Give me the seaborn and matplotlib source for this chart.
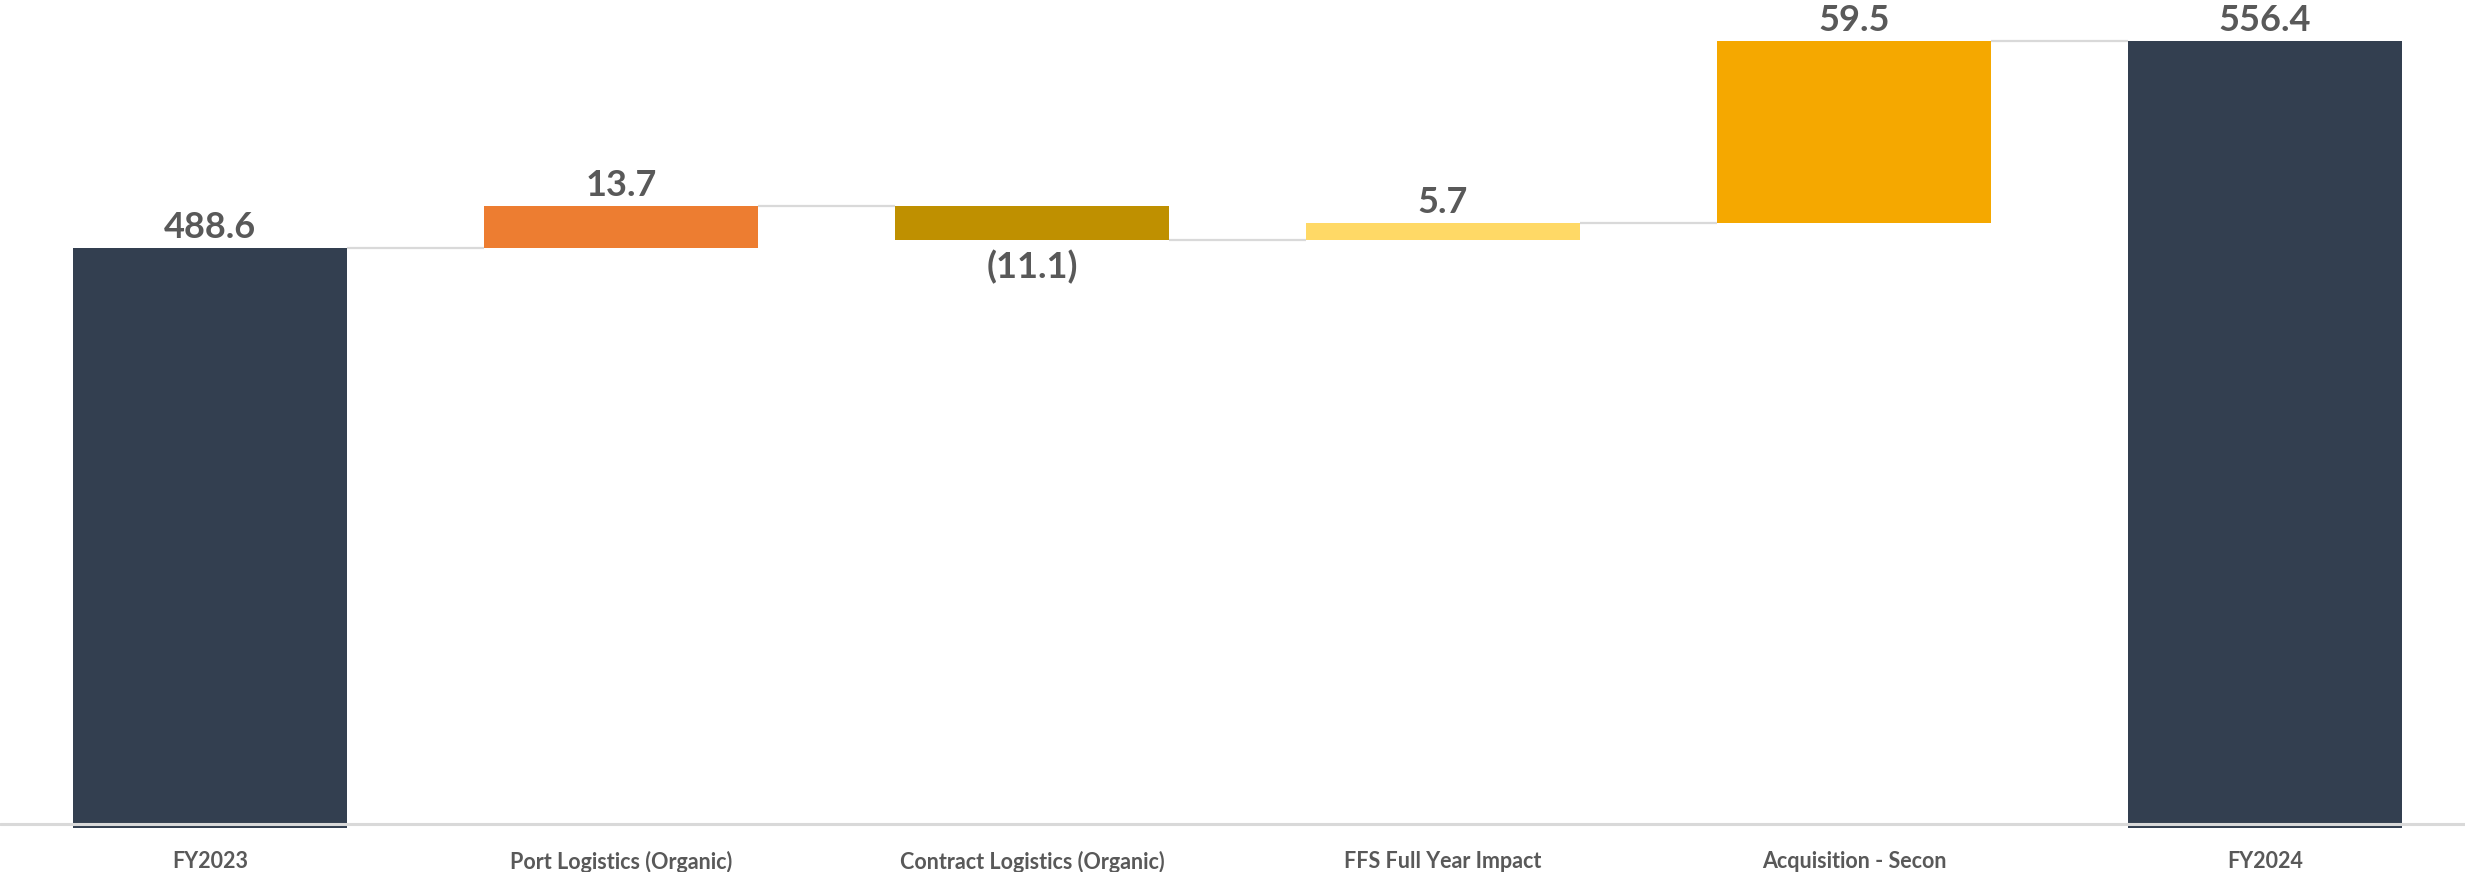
import matplotlib
matplotlib.use("Agg")
import matplotlib.pyplot as plt
import seaborn as sns
import numpy as np
import pandas as pd

categories = ["FY2023", "Port Logistics (Organic)", "Contract Logistics (Organic)",
              "FFS Full Year Impact", "Acquisition - Secon", "FY2024"]
changes = [488.6, 13.7, -11.1, 5.7, 59.5, 556.4]
is_total = [True, False, False, False, False, True]
labels = ["488.6", "13.7", "(11.1)", "5.7", "59.5", "556.4"]
colors = ["#333F50", "#ED7D31", "#BF9000", "#FFD966", "#F5A800", "#333F50"]

# waterfall geometry
bottoms, heights, running = [], [], 0.0
for v, tot in zip(changes, is_total):
    if tot:
        bottoms.append(0.0)
        heights.append(v)
        running = v
    else:
        lo = min(running, running + v)
        bottoms.append(lo)
        heights.append(abs(v))
        running += v
tops = [b + h for b, h in zip(bottoms, heights)]
levels = []
running = 0.0
for v, tot in zip(changes, is_total):
    running = v if tot else running + v
    levels.append(running)

df = pd.DataFrame({"cat": categories, "height": heights})

sns.set_theme(style="white")
plt.rcParams["font.family"] = ["Lato", "DejaVu Sans"]

fig = plt.figure(figsize=(24.65, 8.72), dpi=100)
ax = fig.add_axes([0.0, 0.05, 1.0, 0.95])

W = 0.667
sns.barplot(data=df, x="cat", y="height", bottom=np.array(bottoms), width=W,
            errorbar=None, ax=ax, linewidth=0, color=colors[0], saturation=1)
for p, c in zip(ax.patches, colors):
    p.set_facecolor(c)
    p.set_edgecolor(c)
    p.set_zorder(2)

# connectors
for i in range(len(categories) - 1):
    ax.plot([i + W / 2, i + 1 - W / 2], [levels[i], levels[i]],
            color="#D9D9D9", lw=1.6, zorder=1, solid_capstyle="butt")

ax.axhline(300, color="#D9D9D9", lw=2.2, zorder=3)

ax.set_xlim(-0.511, 5.487)
ax.set_ylim(298.6, 569.8)

txt_color = "#595959"
for i, (v, lab) in enumerate(zip(changes, labels)):
    if v >= 0:
        ax.annotate(lab, (i, tops[i]), xytext=(0, 3), textcoords="offset points",
                    ha="center", va="bottom", fontsize=26, fontweight="bold",
                    color=txt_color, zorder=4)
    else:
        ax.annotate(lab, (i, bottoms[i]), xytext=(0, -7), textcoords="offset points",
                    ha="center", va="top", fontsize=26, fontweight="bold",
                    color=txt_color, zorder=4)

ax.set_xlabel("")
ax.set_ylabel("")
ax.set_yticks([])
ax.tick_params(axis="x", length=0, pad=16)
for t in ax.get_xticklabels():
    t.set_fontsize(15.5)
    t.set_fontweight("bold")
    t.set_color(txt_color)
for s in ax.spines.values():
    s.set_visible(False)

fig.savefig("out.png", dpi=100)
